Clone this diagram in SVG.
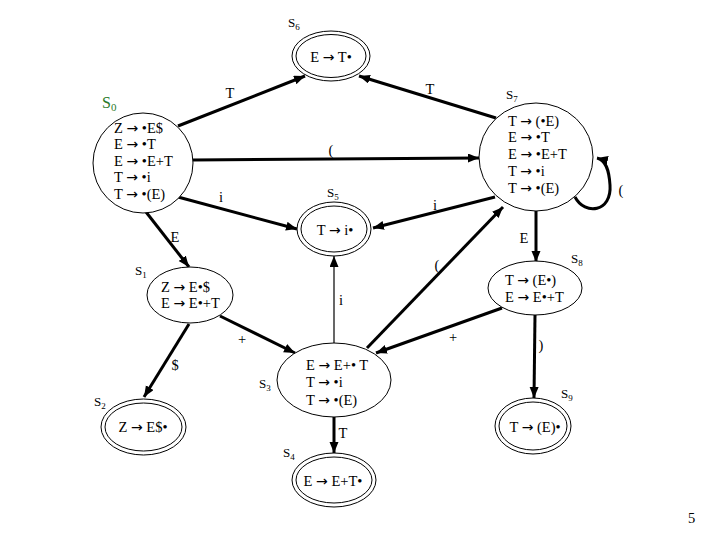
<svg xmlns="http://www.w3.org/2000/svg" width="720" height="540" viewBox="0 0 720 540">
<style>
text{font-family:"Liberation Serif","Times New Roman","DejaVu Serif",serif;font-size:14.5px;fill:#000}
.a{font-family:"DejaVu Sans",sans-serif;font-size:14px}
.st{fill:#fff;stroke:#000;stroke-width:1}
.e{stroke:#000;stroke-width:3;fill:none}
.thin{stroke:#000;stroke-width:1.2;fill:none}
.lb{font-size:13px}
.sub{font-size:9px}
.g{fill:#2a7a2a;font-size:16px}
.m{text-anchor:middle}
</style>
<defs>
<marker id="ah" markerUnits="userSpaceOnUse" markerWidth="12" markerHeight="10" refX="11" refY="4.5" orient="auto">
<path d="M0,0 L11,4.5 L0,9 z" fill="#000"/>
</marker>
</defs>
<rect width="720" height="540" fill="#fff"/>
<g id="connectors">
<line class="e" x1="178" y1="126" x2="305" y2="76" marker-end="url(#ah)"/>
<text x="230" y="98" class="m">T</text>
<line class="e" x1="496" y1="118" x2="359" y2="76" marker-end="url(#ah)"/>
<text x="430" y="94" class="m">T</text>
<line class="e" x1="193" y1="160" x2="479" y2="158" marker-end="url(#ah)"/>
<text x="331" y="155" class="m">(</text>
<line class="e" x1="178" y1="197" x2="297" y2="229" marker-end="url(#ah)"/>
<text x="221" y="202" class="m">i</text>
<line class="e" x1="495" y1="197" x2="373" y2="228" marker-end="url(#ah)"/>
<text x="435" y="210" class="m">i</text>
<line class="e" x1="146" y1="212" x2="189" y2="267" marker-end="url(#ah)"/>
<text x="175" y="242" class="m">E</text>
<line class="e" x1="189" y1="324" x2="144" y2="397" marker-end="url(#ah)"/>
<text x="175" y="370" class="m">$</text>
<line class="e" x1="220" y1="316" x2="295" y2="353" marker-end="url(#ah)"/>
<text x="242" y="344" class="m">+</text>
<line class="thin" x1="334" y1="343" x2="334" y2="256" marker-end="url(#ah)"/>
<text x="341" y="305" class="m">i</text>
<line class="e" x1="367" y1="348" x2="503" y2="207" marker-end="url(#ah)"/>
<text x="437" y="270" class="m">(</text>
<line class="e" x1="502" y1="308" x2="376" y2="353" marker-end="url(#ah)"/>
<text x="453" y="342" class="m">+</text>
<line class="e" x1="536" y1="211" x2="536" y2="262" marker-end="url(#ah)"/>
<text x="524" y="243" class="m">E</text>
<line class="e" x1="535" y1="315" x2="534" y2="398" marker-end="url(#ah)"/>
<text x="541" y="350" class="m">)</text>
<line class="e" x1="334" y1="417" x2="334" y2="453" marker-end="url(#ah)"/>
<text x="343" y="438" class="m">T</text>
<path class="e" d="M575,197 C585,216 612,212 610,185 C609,170 606,160 597,158" marker-end="url(#ah)"/>
<text x="621" y="195" class="m">(</text>
</g>
<g id="S6">
<ellipse class="st" cx="331" cy="56" rx="39" ry="25"/>
<ellipse class="st" cx="331" cy="56" rx="35" ry="21.5"/>
<text x="331" y="62" class="m">E <tspan class="a">→</tspan> T•</text>
<text x="288" y="27" class="lb">S<tspan class="sub" dy="3">6</tspan></text>
</g>
<g id="S0">
<circle class="st" cx="143" cy="163" r="50"/>
<text x="114" y="133">Z <tspan class="a">→</tspan> •E$</text>
<text x="114" y="149">E <tspan class="a">→</tspan> •T</text>
<text x="114" y="166">E <tspan class="a">→</tspan> •E+T</text>
<text x="114" y="182">T <tspan class="a">→</tspan> •i</text>
<text x="114" y="199">T <tspan class="a">→</tspan> •(E)</text>
<text x="102" y="108" class="g">S<tspan font-size="11" dy="3">0</tspan></text>
</g>
<g id="S7">
<ellipse class="st" cx="536" cy="157" rx="57" ry="54"/>
<text x="508" y="126">T <tspan class="a">→</tspan> (•E)</text>
<text x="508" y="142">E <tspan class="a">→</tspan> •T</text>
<text x="508" y="159">E <tspan class="a">→</tspan> •E+T</text>
<text x="508" y="176">T <tspan class="a">→</tspan> •i</text>
<text x="508" y="193">T <tspan class="a">→</tspan> •(E)</text>
<text x="506" y="99" class="lb">S<tspan class="sub" dy="3">7</tspan></text>
</g>
<g id="S5">
<ellipse class="st" cx="334" cy="229" rx="37" ry="27"/>
<ellipse class="st" cx="334" cy="229" rx="33" ry="23"/>
<text x="335" y="235" class="m">T <tspan class="a">→</tspan> i•</text>
<text x="327" y="197" class="lb">S<tspan class="sub" dy="3">5</tspan></text>
</g>
<g id="S1">
<ellipse class="st" cx="190" cy="295" rx="43" ry="28"/>
<text x="161" y="292">Z <tspan class="a">→</tspan> E•$</text>
<text x="161" y="308">E <tspan class="a">→</tspan> E•+T</text>
<text x="135" y="275" class="lb">S<tspan class="sub" dy="3">1</tspan></text>
</g>
<g id="S2">
<ellipse class="st" cx="143.5" cy="427" rx="42.5" ry="28"/>
<ellipse class="st" cx="143.5" cy="427" rx="38.5" ry="24"/>
<text x="143" y="432" class="m">Z <tspan class="a">→</tspan> E$•</text>
<text x="94" y="406" class="lb">S<tspan class="sub" dy="3">2</tspan></text>
</g>
<g id="S3">
<ellipse class="st" cx="334" cy="380" rx="57" ry="37"/>
<text x="306" y="370">E <tspan class="a">→</tspan> E+• T</text>
<text x="306" y="387">T <tspan class="a">→</tspan> •i</text>
<text x="306" y="405">T <tspan class="a">→</tspan> •(E)</text>
<text x="259" y="388" class="lb">S<tspan class="sub" dy="3">3</tspan></text>
</g>
<g id="S4">
<ellipse class="st" cx="334" cy="480" rx="42" ry="27"/>
<ellipse class="st" cx="334" cy="480" rx="38" ry="23"/>
<text x="333" y="486" class="m">E <tspan class="a">→</tspan> E+T•</text>
<text x="283" y="457" class="lb">S<tspan class="sub" dy="3">4</tspan></text>
</g>
<g id="S8">
<ellipse class="st" cx="535" cy="288" rx="47" ry="27"/>
<text x="505" y="285">T <tspan class="a">→</tspan> (E•)</text>
<text x="505" y="302">E <tspan class="a">→</tspan> E•+T</text>
<text x="571" y="263" class="lb">S<tspan class="sub" dy="3">8</tspan></text>
</g>
<g id="S9">
<ellipse class="st" cx="533" cy="426" rx="38" ry="28"/>
<ellipse class="st" cx="533" cy="426" rx="34" ry="24"/>
<text x="535" y="432" class="m">T <tspan class="a">→</tspan> (E)•</text>
<text x="561" y="398" class="lb">S<tspan class="sub" dy="3">9</tspan></text>
</g>
<text x="688" y="523" font-family="Liberation Sans, Arial, sans-serif" font-size="14">5</text>
</svg>
